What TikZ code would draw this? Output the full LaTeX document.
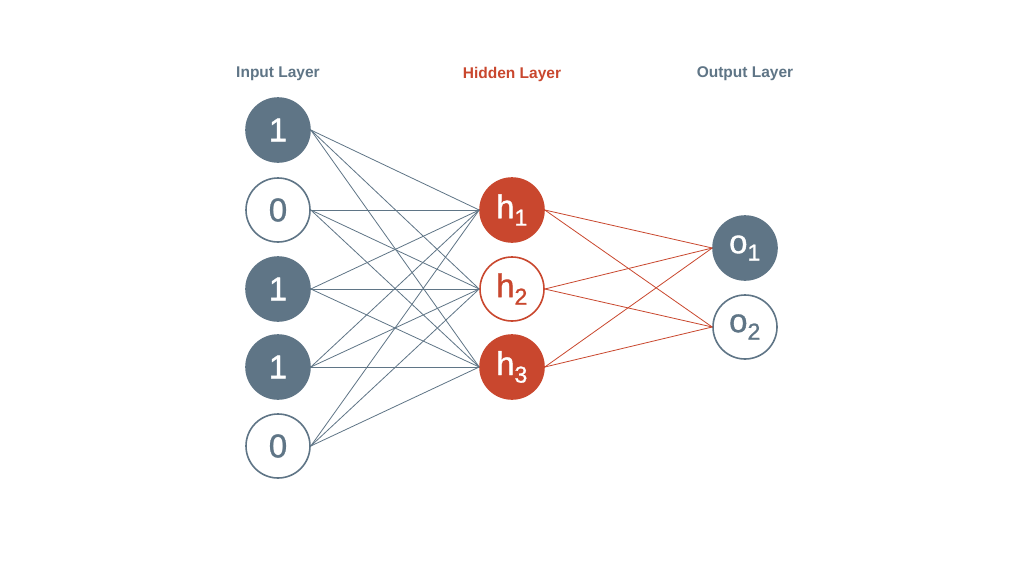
\documentclass[tikz,border=0pt]{standalone}
\usepackage{fontspec}
\setmainfont{Liberation Sans}
\newfontfamily\nodefont[FakeBold=1]{Liberation Sans}
\definecolor{slate}{HTML}{5F7586}
\definecolor{rust}{HTML}{C9472E}
\begin{document}
\begin{tikzpicture}[x=1pt,y=-1pt,
  neuron/.style={circle,minimum size=64pt,inner sep=0pt,line width=1.6pt,font=\nodefont\fontsize{33}{33}\selectfont},
  gfill/.style={neuron,draw=slate,fill=slate,text=white},
  ghollow/.style={neuron,draw=slate,fill=white,text=slate},
  rfill/.style={neuron,draw=rust,fill=rust,text=white},
  rhollow/.style={neuron,draw=rust,fill=white,text=rust},
  glink/.style={draw=slate,line width=0.8pt},
  rlink/.style={draw=rust,line width=0.8pt},
  title/.style={font=\bfseries\fontsize{15.5}{15.5}\selectfont}
]
\useasboundingbox (0,0) rectangle (1024,576);
\fill[white] (0,0) rectangle (1024,576);
\node[title,text=slate] (tin) at (278,74) {Input Layer};
\node[title,text=rust] (thid) at (512,74) {Hidden Layer};
\node[title,text=slate] (tout) at (745,74) {Output Layer};
\node[gfill] (x1) at (278,130) {1};
\node[ghollow] (x2) at (278,210) {0};
\node[gfill] (x3) at (278,289) {1};
\node[gfill] (x4) at (278,367) {1};
\node[ghollow] (x5) at (278,446) {0};
\node[rfill] (h1) at (512,210) {h\textsubscript{1}};
\node[rhollow] (h2) at (512,289) {h\textsubscript{2}};
\node[rfill] (h3) at (512,367) {h\textsubscript{3}};
\node[gfill] (o1) at (745,248) {o\textsubscript{1}};
\node[ghollow] (o2) at (745,327) {o\textsubscript{2}};
\foreach \i in {1,...,5}{\foreach \h in {1,2,3}{\draw[glink] (x\i.east) -- (h\h.west);}}
\foreach \h in {1,2,3}{\foreach \o in {1,2}{\draw[rlink] (h\h.east) -- (o\o.west);}}
\end{tikzpicture}
\end{document}
